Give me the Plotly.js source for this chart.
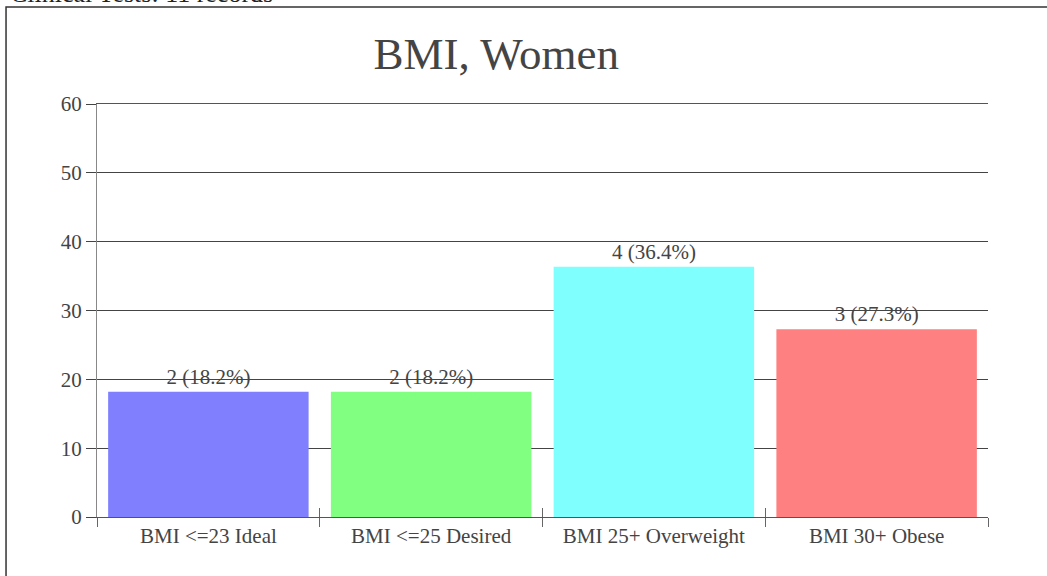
<!DOCTYPE html>
<html>
<head>
<meta charset="utf-8">
<script src="https://cdn.plot.ly/plotly-3.0.1.min.js"></script>
<style>html,body{margin:0;padding:0;background:#fff;}#chart{width:1047px;height:576px;}</style>
</head>
<body>
<div id="chart"></div>
<script>
var categories = ["BMI <=23 Ideal", "BMI <=25 Desired", "BMI 25+ Overweight", "BMI 30+ Obese"];
var counts = [2, 2, 4, 3];
var percents = [18.18, 18.18, 36.36, 27.27];
var barColors = ["#8080ff", "#80ff80", "#80ffff", "#ff8080"];
var yTicks = [0, 10, 20, 30, 40, 50, 60];
var chartTitle = "BMI, Women";
var headerText = "Clinical Tests: 11 records";

var labels = counts.map(function (c, i) { return c + " (" + percents[i].toFixed(1) + "%)"; });
var FONT = "Liberation Serif, Times New Roman, serif";

var bars = {
  type: "bar", x: categories, y: percents, text: labels,
  textposition: "outside", cliponaxis: false,
  textfont: {family: FONT, size: 21, color: "#444"},
  marker: {color: barColors, line: {width: 0}},
  hoverinfo: "skip", xaxis: "x", yaxis: "y"
};
var ghost = {
  type: "bar", x: categories, y: percents, opacity: 0,
  marker: {color: barColors}, hoverinfo: "skip", xaxis: "x2", yaxis: "y", showlegend: false
};

var layout = {
  width: 1047, height: 576,
  margin: {l: 97, r: 59, t: 104, b: 59, pad: 0},
  paper_bgcolor: "#fff", plot_bgcolor: "#fff",
  showlegend: false, bargap: 0.1,
  font: {family: FONT, color: "#444"},
  title: {text: chartTitle, font: {family: FONT, size: 45, color: "#444"},
          xref: "container", x: 0.474, xanchor: "center",
          yref: "container", y: 0.907, yanchor: "middle"},
  xaxis: {type: "category", categoryarray: categories, showline: true, mirror: true, linecolor: "#555", linewidth: 1,
          ticks: "outside", tickson: "boundaries", ticklen: 9, tickcolor: "#666",
          tickfont: {family: FONT, size: 21, color: "#444"}, showgrid: false, zeroline: false},
  xaxis2: {type: "category", categoryarray: categories, overlaying: "x", matches: "x", anchor: "y",
           ticks: "inside", tickson: "boundaries", ticklen: 9, tickcolor: "#666",
           showticklabels: false, showgrid: false, zeroline: false, showline: false},
  yaxis: {range: [0, 60], tickvals: yTicks, showgrid: true, gridcolor: "#444", gridwidth: 1,
          ticks: "outside", ticklen: 10, tickcolor: "#444", showline: true, linecolor: "#888",
          zeroline: false, tickfont: {family: FONT, size: 21, color: "#444"}},
  shapes: [{type: "rect", xref: "paper", yref: "paper", x0: -0.1021, x1: 1.0696, y0: -0.1525, y1: 1.2349,
            line: {color: "#333", width: 1.5}, fillcolor: "rgba(0,0,0,0)", layer: "below"}],
  annotations: [{text: headerText, xref: "paper", yref: "paper", x: -0.1, y: 1.2276,
                 xanchor: "left", yanchor: "bottom", showarrow: false,
                 font: {family: FONT, size: 26, color: "#222"}}]
};

Plotly.newPlot("chart", [bars, ghost], layout, {displayModeBar: false, staticPlot: true});
</script>
</body>
</html>
